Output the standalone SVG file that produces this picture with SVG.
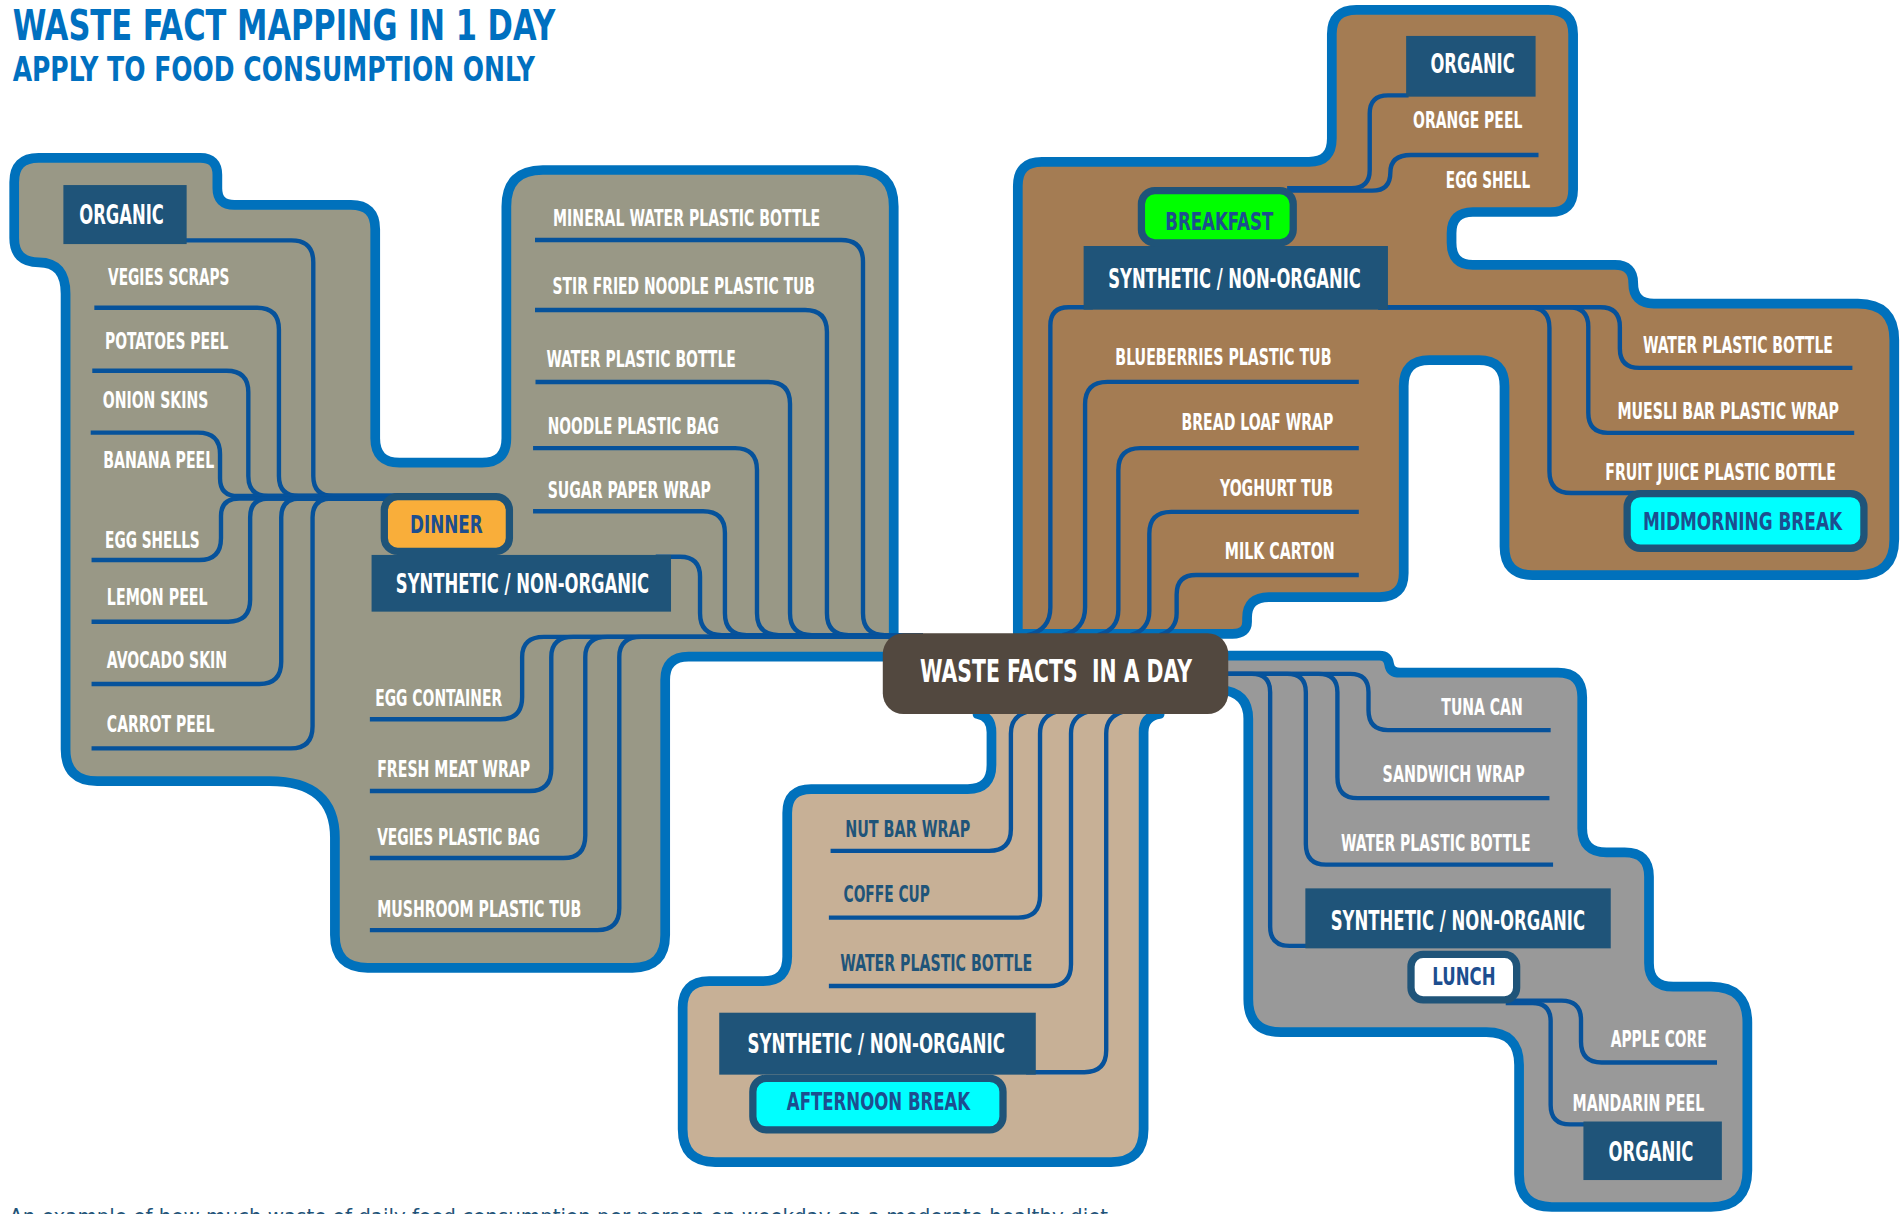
<svg xmlns="http://www.w3.org/2000/svg" width="1904" height="1214" viewBox="0 0 1904 1214">
<style>
.panel{stroke:#0071BC;stroke-width:8;stroke-linejoin:round}
.ln{fill:none;stroke:#06529B;stroke-width:3.6}
.cat{fill:#1F5479}
.badge{stroke:#1F5479;stroke-width:6}
text{font-family:"Liberation Sans Narrow","DejaVu Sans Condensed","Liberation Sans",sans-serif;font-weight:bold}
.item{font-size:19px;fill:#FFFFFF}
.item2{font-size:19px;fill:#1F5479}
.catt{font-size:22px;fill:#FFFFFF}
.bt{font-size:21px;fill:#1D4E8F}
.title{fill:#0070C0}
</style>
<rect width="1904" height="1214" fill="#FFFFFF"/>
<g transform="scale(1.2142857)">
<g id="titles">
<text class="title" x="10.4" y="33" font-size="34.5" textLength="447" lengthAdjust="spacingAndGlyphs">WASTE FACT MAPPING IN 1 DAY</text>
<text class="title" x="10.4" y="66.7" font-size="28" textLength="430" lengthAdjust="spacingAndGlyphs">APPLY TO FOOD CONSUMPTION ONLY</text>
<text x="7.6" y="1008" font-size="18" style="font-weight:normal" fill="#1F5479" textLength="905" lengthAdjust="spacingAndGlyphs">An example of how much waste of daily food consumption per person on weekday on a moderate healthy diet</text>
</g>
<g id="panels">
<path id="panel-dinner" class="panel" fill="#999886" d="M11.7,150 Q11.7,130 31.7,130 H165 Q179,130 179,144 V155 Q179,168.7 193,168.7 H289 Q309,168.7 309,188.7 V361 Q309,381 329,381 H397 Q417,381 417,361 V170 Q417,140 447,140 H706 Q736,140 736,170 V530 H760 V540.8 H567 Q547.8,540.8 547.8,560 V770 Q547.8,797 520.8,797 H302.8 Q275.8,797 275.8,770 V690 Q275.8,643.3 222,643.3 H80 Q54,643.3 54,617 V242 Q54,216 32,216 Q11.7,216 11.7,196 Z"/>
<path id="panel-breakfast" class="panel" fill="#A47C53" d="M838.2,521 V153 Q838.2,133.3 858,133.3 H1078 Q1096.8,133.3 1096.8,114 V28 Q1096.8,8.1 1117,8.1 H1275 Q1295.5,8.1 1295.5,28 V156 Q1295.5,174.6 1277,174.6 H1213 Q1195.4,174.6 1195.4,192 V200 Q1195.4,218.2 1213,218.2 H1330 Q1345,218.2 1345,233 Q1345,250 1362,250 H1530 Q1560,250 1560,280 V444 Q1560,473.6 1530,473.6 H1262 Q1239,473.6 1239,450 V318 Q1239,296.5 1218,296.5 H1177 Q1156,296.5 1156,318 V472 Q1156,491.7 1136,491.7 H1045 Q1027,491.7 1027,509 V512 Q1027,522 1015,522 H838.2 Z"/>
<path id="panel-afternoon" class="panel" fill="#C7B096" d="M805,588 Q816.5,590 816.5,603 V630 Q816.5,649.8 797,649.8 H668 Q648.3,649.8 648.3,669.5 V788 Q648.3,808 628.5,808 H584 Q562.2,808 562.2,830 V930 Q562.2,957 589,957 H915 Q941.8,957 941.8,930 V603 Q941.8,590 955,588 V570 H805 Z"/>
<path id="panel-lunch" class="panel" fill="#999999" d="M1005,540 H1136 Q1143,540 1144,547 Q1145,554 1153,554 H1283 Q1303,554 1303,574 V682 Q1303,702 1323,702 H1338 Q1358,702 1358,722 V793 Q1358,812.6 1378,812.6 H1409 Q1439,812.6 1439,842 V964 Q1439,994 1409,994 H1278 Q1251,994 1251,967 V877 Q1251,850 1224,850 H1055 Q1028,850 1028,823 V592 Q1028,570 1005,568 Z"/>
</g>
<g id="connectors">
<path class="ln" d="M80,198 H240 Q258,198 258,216 V392 Q258,408.5 274.5,408.5 H330"/>
<path class="ln" d="M77.7,253.4 H211.7 Q229.7,253.4 229.7,271.4 V392 Q229.7,408.5 246,408.5 H330"/>
<path class="ln" d="M76,305.3 H186.5 Q204.5,305.3 204.5,323 V392 Q204.5,408.5 221,408.5 H330"/>
<path class="ln" d="M74.7,356.3 H163 Q181.2,356.3 181.2,374 V394 Q181.2,408.5 196,408.5 H330"/>
<path class="ln" d="M75.4,461.2 H164 Q182,461.2 182,443 V425 Q182,410.5 197,410.5 H330"/>
<path class="ln" d="M75.4,512 H188 Q206,512 206,494 V426 Q206,410.5 221,410.5 H330"/>
<path class="ln" d="M75.4,563.3 H213.6 Q231.6,563.3 231.6,545 V426 Q231.6,410.5 247,410.5 H330"/>
<path class="ln" d="M75.4,616.3 H239.4 Q257.4,616.3 257.4,598 V426 Q257.4,410.5 273,410.5 H330"/>
<path class="ln" d="M440.6,197.6 H692.7 Q710.7,197.6 710.7,215.6 V505 Q710.7,523 728.7,523 H760"/>
<path class="ln" d="M440.6,255.3 H663 Q681,255.3 681,273.3 V505 Q681,523 699,523 H760"/>
<path class="ln" d="M441,314.6 H632.6 Q650.6,314.6 650.6,332.6 V505 Q650.6,523 668.6,523 H760"/>
<path class="ln" d="M439,369 H605.4 Q623.4,369 623.4,387 V505 Q623.4,523 641.4,523 H760"/>
<path class="ln" d="M439,421 H579 Q597,421 597,439 V505 Q597,523 615,523 H760"/>
<path class="ln" d="M540,458.5 H560 Q576.5,458.5 576.5,475 V505 Q576.5,523 594.5,523 H760"/>
<path class="ln" d="M304.6,592.3 H412 Q430,592.3 430,574 V541 Q430,524.5 448,524.5 H760"/>
<path class="ln" d="M304.6,651.4 H436 Q454,651.4 454,633 V541 Q454,524.5 472,524.5 H760"/>
<path class="ln" d="M304.6,706.6 H464 Q482,706.6 482,688 V541 Q482,524.5 500,524.5 H760"/>
<path class="ln" d="M304.6,766 H492 Q510,766 510,748 V541 Q510,524.5 528,524.5 H760"/>
<path class="ln" d="M900,253 H880 Q865,253 865,268 V500 Q865,519 846,523"/>
<path class="ln" d="M1119,314.5 H912 Q893.6,314.5 893.6,333 V500 Q893.6,519 875,523"/>
<path class="ln" d="M1119,369 H939 Q921,369 921,387 V502 Q921,519 904,523"/>
<path class="ln" d="M1119,421.5 H964.5 Q946.5,421.5 946.5,439.5 V503 Q946.5,519 931,523"/>
<path class="ln" d="M1119,473.5 H985 Q969,473.5 969,489.5 V505 Q969,519 955,523"/>
<path class="ln" d="M1135,253 H1318 Q1334,253 1334,269 V287 Q1334,303 1350,303 H1525.5"/>
<path class="ln" d="M1135,253 H1292 Q1308,253 1308,269 V340 Q1308,356.5 1324,356.5 H1527"/>
<path class="ln" d="M1135,253 H1259 Q1276,253 1276,270 V388 Q1276,406 1294,406 H1519"/>
<path class="ln" d="M1160,78.5 H1143 Q1128,78.5 1128,93.5 V140 Q1128,155 1113,155 H1060"/>
<path class="ln" d="M1267,127.6 H1162 Q1145,127.6 1145,142 Q1145,157 1130,157 H1060"/>
<path class="ln" d="M1000,555 H1112 Q1127,555 1127,570 V585 Q1127,601.3 1143,601.3 H1277"/>
<path class="ln" d="M1000,555 H1086 Q1101.4,555 1101.4,570 V640 Q1101.4,657.3 1118,657.3 H1276"/>
<path class="ln" d="M1000,555 H1060 Q1075.4,555 1075.4,570 V695 Q1075.4,712 1092,712 H1279"/>
<path class="ln" d="M1000,555 H1031 Q1046,555 1046,570 V763 Q1046,779 1062,779 H1085"/>
<path class="ln" d="M1240,824 H1286 Q1302,824 1302,840 V858 Q1302,875 1319,875 H1414"/>
<path class="ln" d="M1240,826 H1262 Q1277,826 1277,841 V910 Q1277,926 1293,926 H1310"/>
<path class="ln" d="M684,700.7 H814.5 Q832.5,700.7 832.5,682.7 V604 Q832.5,590 846,586"/>
<path class="ln" d="M682.6,755.7 H838.5 Q856.5,755.7 856.5,737.7 V604 Q856.5,590 870,586"/>
<path class="ln" d="M682.6,812 H864 Q882,812 882,794 V604 Q882,590 896,586"/>
<path class="ln" d="M845,883 H893 Q911,883 911,865 V604 Q911,590 925,586"/>
</g>
<g id="node-center">
<rect x="727" y="521.5" width="284.5" height="66.5" rx="17" fill="#52483F"/>
<text x="757.6" y="562" font-size="26" fill="#FFFFFF" xml:space="preserve" textLength="224" lengthAdjust="spacingAndGlyphs">WASTE FACTS  IN A DAY</text>
</g>
<g id="node-dinner-organic"><rect class="cat" x="52.2" y="152.4" width="101.5" height="48.6"/><text class="catt" x="65.3" y="184.5" textLength="69.7" lengthAdjust="spacingAndGlyphs">ORGANIC</text></g>
<g id="node-dinner-synthetic"><rect class="cat" x="306" y="457" width="246.6" height="46.7"/><text class="catt" x="326" y="488.6" textLength="208.6" lengthAdjust="spacingAndGlyphs">SYNTHETIC / NON-ORGANIC</text></g>
<g id="node-dinner"><rect class="badge" x="316.5" y="409" width="103" height="45" rx="11" fill="#F9AE3A"/><text class="bt" x="337.6" y="439" textLength="60" lengthAdjust="spacingAndGlyphs">DINNER</text></g>
<g id="node-breakfast-organic"><rect class="cat" x="1158" y="29.6" width="106.6" height="50"/><text class="catt" x="1178" y="60.4" textLength="69.4" lengthAdjust="spacingAndGlyphs">ORGANIC</text></g>
<g id="node-breakfast-synthetic"><rect class="cat" x="892.4" y="202.6" width="250.6" height="52.4"/><text class="catt" x="912.7" y="237.5" textLength="208" lengthAdjust="spacingAndGlyphs">SYNTHETIC / NON-ORGANIC</text></g>
<g id="node-breakfast"><rect class="badge" x="940" y="157" width="125" height="43" rx="11" fill="#00FF00"/><text class="bt" x="959.6" y="189" font-size="22" textLength="89" lengthAdjust="spacingAndGlyphs">BREAKFAST</text></g>
<g id="node-midmorning"><rect class="badge" x="1340" y="406.5" width="195" height="45" rx="11" fill="#00FFFF"/><text class="bt" transform="scale(0.75,1)" x="1804" y="436.5" textLength="218.67" lengthAdjust="spacingAndGlyphs">MIDMORNING BREAK</text></g>
<g id="node-afternoon-synthetic"><rect class="cat" x="592.3" y="834" width="260.7" height="51"/><text class="catt" x="615.6" y="867" textLength="212" lengthAdjust="spacingAndGlyphs">SYNTHETIC / NON-ORGANIC</text></g>
<g id="node-afternoon"><rect class="badge" x="620" y="888" width="206" height="42.5" rx="11" fill="#00FFFF"/><text class="bt" x="648" y="914" font-size="22" textLength="151" lengthAdjust="spacingAndGlyphs">AFTERNOON BREAK</text></g>
<g id="node-lunch-synthetic"><rect class="cat" x="1075" y="731.6" width="251.5" height="49.4"/><text class="catt" x="1095.9" y="765.6" textLength="209.4" lengthAdjust="spacingAndGlyphs">SYNTHETIC / NON-ORGANIC</text></g>
<g id="node-lunch"><rect class="badge" x="1162" y="786" width="87" height="37.5" rx="10" fill="#FFFFFF"/><text class="bt" x="1179.6" y="811.4" font-size="22" textLength="52" lengthAdjust="spacingAndGlyphs">LUNCH</text></g>
<g id="node-lunch-organic"><rect class="cat" x="1304" y="923.6" width="114" height="48.2"/><text class="catt" x="1324.6" y="956" textLength="70" lengthAdjust="spacingAndGlyphs">ORGANIC</text></g>
<g id="node-vegies-scraps"><text class="item" x="89" y="234.7" textLength="100" lengthAdjust="spacingAndGlyphs">VEGIES SCRAPS</text></g>
<g id="node-potatoes-peel"><text class="item" x="86.5" y="287" textLength="101.5" lengthAdjust="spacingAndGlyphs">POTATOES PEEL</text></g>
<g id="node-onion-skins"><text class="item" x="84.6" y="336" textLength="87" lengthAdjust="spacingAndGlyphs">ONION SKINS</text></g>
<g id="node-banana-peel"><text class="item" x="85" y="385" textLength="91.5" lengthAdjust="spacingAndGlyphs">BANANA PEEL</text></g>
<g id="node-egg-shells"><text class="item" x="86.5" y="451.5" textLength="78" lengthAdjust="spacingAndGlyphs">EGG SHELLS</text></g>
<g id="node-lemon-peel"><text class="item" x="88" y="498" textLength="83" lengthAdjust="spacingAndGlyphs">LEMON PEEL</text></g>
<g id="node-avocado-skin"><text class="item" x="88" y="550" textLength="99" lengthAdjust="spacingAndGlyphs">AVOCADO SKIN</text></g>
<g id="node-carrot-peel"><text class="item" x="88" y="603" textLength="88.5" lengthAdjust="spacingAndGlyphs">CARROT PEEL</text></g>
<g id="node-mineral-water"><text class="item" x="455.5" y="186" textLength="220" lengthAdjust="spacingAndGlyphs">MINERAL WATER PLASTIC BOTTLE</text></g>
<g id="node-stir-fried"><text class="item" x="455" y="242" textLength="216" lengthAdjust="spacingAndGlyphs">STIR FRIED NOODLE PLASTIC TUB</text></g>
<g id="node-dinner-water"><text class="item" x="450" y="302" textLength="156" lengthAdjust="spacingAndGlyphs">WATER PLASTIC BOTTLE</text></g>
<g id="node-noodle-bag"><text class="item" x="451" y="357" textLength="141" lengthAdjust="spacingAndGlyphs">NOODLE PLASTIC BAG</text></g>
<g id="node-sugar-wrap"><text class="item" x="451" y="410" textLength="134.5" lengthAdjust="spacingAndGlyphs">SUGAR PAPER WRAP</text></g>
<g id="node-egg-container"><text class="item" x="309" y="581" textLength="104.5" lengthAdjust="spacingAndGlyphs">EGG CONTAINER</text></g>
<g id="node-fresh-meat"><text class="item" x="310.6" y="640" textLength="126" lengthAdjust="spacingAndGlyphs">FRESH MEAT WRAP</text></g>
<g id="node-vegies-bag"><text class="item" x="310.6" y="696" textLength="134" lengthAdjust="spacingAndGlyphs">VEGIES PLASTIC BAG</text></g>
<g id="node-mushroom"><text class="item" x="310.6" y="755" textLength="168" lengthAdjust="spacingAndGlyphs">MUSHROOM PLASTIC TUB</text></g>
<g id="node-orange-peel"><text class="item" x="1163.7" y="105.7" textLength="90" lengthAdjust="spacingAndGlyphs">ORANGE PEEL</text></g>
<g id="node-egg-shell"><text class="item" x="1190.7" y="155" textLength="69.5" lengthAdjust="spacingAndGlyphs">EGG SHELL</text></g>
<g id="node-blueberries"><text class="item" x="918.5" y="300.6" textLength="178" lengthAdjust="spacingAndGlyphs">BLUEBERRIES PLASTIC TUB</text></g>
<g id="node-bread-loaf"><text class="item" x="973" y="354" textLength="125" lengthAdjust="spacingAndGlyphs">BREAD LOAF WRAP</text></g>
<g id="node-yoghurt"><text class="item" x="1004.7" y="408.5" textLength="93" lengthAdjust="spacingAndGlyphs">YOGHURT TUB</text></g>
<g id="node-milk"><text class="item" x="1008.7" y="460" textLength="90.5" lengthAdjust="spacingAndGlyphs">MILK CARTON</text></g>
<g id="node-mid-water"><text class="item" transform="scale(0.75,1)" x="1804" y="291" textLength="208.67" lengthAdjust="spacingAndGlyphs">WATER PLASTIC BOTTLE</text></g>
<g id="node-muesli"><text class="item" transform="scale(0.75,1)" x="1776" y="345.4" textLength="243.33" lengthAdjust="spacingAndGlyphs">MUESLI BAR PLASTIC WRAP</text></g>
<g id="node-fruit-juice"><text class="item" transform="scale(0.75,1)" x="1762.67" y="395.3" textLength="253.33" lengthAdjust="spacingAndGlyphs">FRUIT JUICE PLASTIC BOTTLE</text></g>
<g id="node-tuna"><text class="item" x="1187" y="588.6" textLength="67" lengthAdjust="spacingAndGlyphs">TUNA CAN</text></g>
<g id="node-sandwich"><text class="item" x="1138.6" y="644" textLength="117" lengthAdjust="spacingAndGlyphs">SANDWICH WRAP</text></g>
<g id="node-lunch-water"><text class="item" x="1104.4" y="701" textLength="156" lengthAdjust="spacingAndGlyphs">WATER PLASTIC BOTTLE</text></g>
<g id="node-apple"><text class="item" x="1326.5" y="862.5" textLength="79" lengthAdjust="spacingAndGlyphs">APPLE CORE</text></g>
<g id="node-mandarin"><text class="item" x="1295" y="915" textLength="108.5" lengthAdjust="spacingAndGlyphs">MANDARIN PEEL</text></g>
<g id="node-nut-bar"><text class="item2" x="696" y="689.4" textLength="103" lengthAdjust="spacingAndGlyphs">NUT BAR WRAP</text></g>
<g id="node-coffe"><text class="item2" x="694.7" y="743" textLength="71" lengthAdjust="spacingAndGlyphs">COFFE CUP</text></g>
<g id="node-aft-water"><text class="item2" x="692" y="800" textLength="158" lengthAdjust="spacingAndGlyphs">WATER PLASTIC BOTTLE</text></g>
</g>
</svg>
